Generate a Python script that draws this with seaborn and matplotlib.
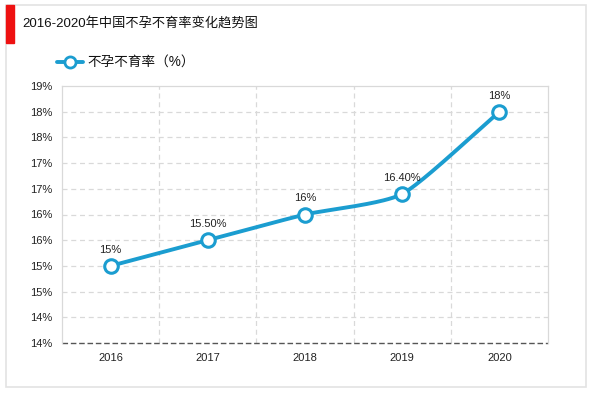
import numpy as np
import pandas as pd
import matplotlib
matplotlib.use("Agg")
import matplotlib.pyplot as plt
import seaborn as sns
from matplotlib.patches import Rectangle
from matplotlib.lines import Line2D
from matplotlib.ticker import FuncFormatter, MultipleLocator

# ---- data ----
years = ["2016", "2017", "2018", "2019", "2020"]
rates = [15.0, 15.5, 16.0, 16.4, 18.0]
point_labels = ["15%", "15.50%", "16%", "16.40%", "18%"]
title = "2016-2020年中国不孕不育率变化趋势图"
series_name = "不孕不育率（%）"

sns.set_theme(style="white")
plt.rcParams["font.family"] = ["Liberation Sans", "Noto Sans CJK SC", "DejaVu Sans"]

BLUE = "#1b9dd0"
df = pd.DataFrame({"year": years, "rate": rates})
df["x"] = np.arange(len(years))

fig = plt.figure(figsize=(6.0, 3.93), dpi=100)
ax = fig.add_axes([62 / 600, 50 / 393, 486 / 600, 257 / 393])

# smooth curve (Catmull-Rom through the data points)
xs = df["x"].to_numpy(float)
ys = df["rate"].to_numpy(float)
px = np.concatenate([[2 * xs[0] - xs[1]], xs, [2 * xs[-1] - xs[-2]]])
py = np.concatenate([[2 * ys[0] - ys[1]], ys, [2 * ys[-1] - ys[-2]]])
cx, cy = [], []
t = np.linspace(0, 1, 40)
for i in range(1, len(px) - 2):
    p0, p1, p2, p3 = [np.array([px[j], py[j]]) for j in (i - 1, i, i + 1, i + 2)]
    m1 = (p2 - p0) / 2 * 0.6
    m2 = (p3 - p1) / 2 * 0.6
    h00 = 2 * t**3 - 3 * t**2 + 1
    h10 = t**3 - 2 * t**2 + t
    h01 = -2 * t**3 + 3 * t**2
    h11 = t**3 - t**2
    pts = np.outer(h00, p1) + np.outer(h10, m1) + np.outer(h01, p2) + np.outer(h11, m2)
    cx.extend(pts[:, 0]); cy.extend(pts[:, 1])
ax.plot(cx, cy, color=BLUE, lw=2.8, zorder=3, solid_capstyle="round")

sns.scatterplot(data=df, x="x", y="rate", ax=ax, s=95, color="white",
                edgecolor=BLUE, linewidth=2.2, zorder=4, legend=False)

for xi, yi, lab in zip(xs, ys, point_labels):
    ax.annotate(lab, (xi, yi), xytext=(0, 8), textcoords="offset points",
                ha="center", va="bottom", fontsize=8, color="#222222")

ax.set_xlim(-0.5, 4.5)
ax.set_ylim(13.5, 18.5)
ax.yaxis.set_major_locator(MultipleLocator(0.5))
ax.yaxis.set_major_formatter(FuncFormatter(lambda v, p: f"{int(np.floor(v + 0.5 + 1e-9))}%"))
ax.set_xticks(range(len(years)))
ax.set_xticklabels(years)
ax.set_xlabel("")
ax.set_ylabel("")
ax.tick_params(axis="both", length=0, labelsize=8, colors="#222222")
ax.tick_params(axis="y", pad=7)
ax.tick_params(axis="x", pad=7)

for yv in np.arange(14.0, 18.5, 0.5):
    ax.axhline(yv, color="#d9d9d9", lw=0.9, ls=(0, (4, 3)), zorder=1)
for xv in [0.5, 1.5, 2.5, 3.5]:
    ax.axvline(xv, color="#d9d9d9", lw=0.9, ls=(0, (4, 3)), zorder=1)

for side in ["left", "top", "right"]:
    ax.spines[side].set_color("#d9d9d9")
    ax.spines[side].set_linewidth(0.9)
ax.spines["bottom"].set_visible(False)
ax.axhline(13.5, color="#555555", lw=1.0, ls=(0, (4, 2)), zorder=2, clip_on=False)

# outer frame and title bar
fig.patches.append(Rectangle((6 / 600, 6 / 393), 580 / 600, 382 / 393,
                             transform=fig.transFigure, fill=False,
                             edgecolor="#e3e3e3", lw=1.2))
fig.patches.append(Rectangle((6 / 600, (393 - 43) / 393), 8 / 600, 38 / 393,
                             transform=fig.transFigure, color="#ee1111"))
fig.text(22 / 600, 1 - 24 / 393, title, fontsize=9.5, color="#111111", va="center", ha="left")

# legend
fig.add_artist(Line2D([57 / 600, 83 / 600], [1 - 62 / 393, 1 - 62 / 393],
                      transform=fig.transFigure, color=BLUE, lw=2.8, zorder=5))
fig.add_artist(Line2D([70 / 600], [1 - 62 / 393], transform=fig.transFigure,
                      color=BLUE, marker="o", markersize=8, markerfacecolor="white",
                      markeredgewidth=2, lw=0, zorder=6))
fig.text(87 / 600, 1 - 62 / 393, series_name, fontsize=9.8, color="#111111",
         va="center", ha="left")

fig.savefig("out.png", dpi=100)
